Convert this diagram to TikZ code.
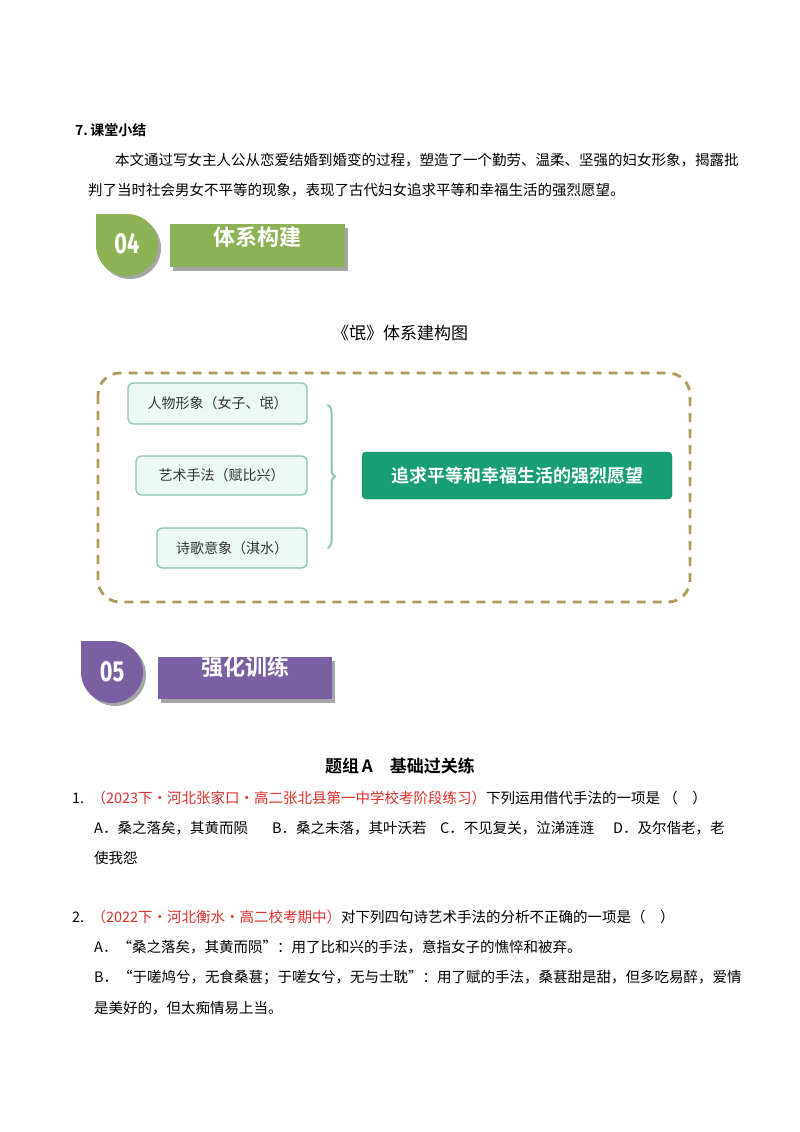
\documentclass[tikz,border=0pt]{standalone}
\usepackage{fontspec}
\setmainfont{Liberation Serif}
\newfontfamily\cjk{Noto Sans CJK SC}
\newfontfamily\cjkb{Noto Sans CJK SC Bold}
\newfontfamily\fira{Fira Sans}
\usetikzlibrary{decorations.pathreplacing}
\definecolor{gbar}{HTML}{8DB255}
\definecolor{pbar}{HTML}{7B5FA3}
\definecolor{dashcol}{HTML}{B09A5A}
\definecolor{lbox}{HTML}{EBF8F4}
\definecolor{lborder}{HTML}{8CC5B2}
\definecolor{dgreen}{HTML}{179E74}
\definecolor{redt}{HTML}{E0302A}
\tikzset{
 txt/.style={anchor=west,inner sep=0,font=\fontsize{14.5}{16}\selectfont\cjk},
 sbox/.style={draw=lborder,line width=1.3pt,fill=lbox,rounded corners=5pt,font=\fontsize{14}{16}\selectfont\cjk,text=black!80,inner sep=0},
 bartxt/.style={font=\fontsize{22}{24}\selectfont\cjkb,text=white,inner sep=0},
 numtxt/.style={font=\fontsize{29}{30}\selectfont\fira\bfseries,text=white,inner sep=0,xscale=0.75}
}
\begin{document}
\begin{tikzpicture}[x=1pt,y=-1pt]
\useasboundingbox[fill=white] (0,0) rectangle (800,1132);
% section 7
\node[txt,font=\fontsize{14}{16}\selectfont\cjkb] (h7) at (75,130) {7.\,课堂小结};
\node[txt] (p1) at (115,160) {本文通过写女主人公从恋爱结婚到婚变的过程，塑造了一个勤劳、温柔、坚强的妇女形象，揭露批};
\node[txt] (p2) at (88,190) {判了当时社会男女不平等的现象，表现了古代妇女追求平等和幸福生活的强烈愿望。};
% badge 04
\fill[black!35] (99,217) rectangle (130,248);
\fill[black!35] (130,248) circle (31);
\fill[gbar] (96,214) rectangle (127,245);
\fill[gbar] (127,245) circle (31);
\node[numtxt] (n4) at (127,244) {04};
\fill[black!35] (173,228) rectangle (348,271);
\fill[gbar] (170,224) rectangle (345,267);
\node[bartxt] (b4) at (257,237) {体系构建};
% title
\node[font=\fontsize{17}{20}\selectfont\cjk,inner sep=0] (ttl) at (400,333) {《氓》体系建构图};
% dashed frame
\draw[dashcol,line width=2.8pt,dash pattern=on 9pt off 7pt,rounded corners=22pt] (98,373) rectangle (690,602);
\node[sbox,minimum width=179pt,minimum height=41pt] (s1) at (217.5,403.5) {人物形象（女子、氓）};
\node[sbox,minimum width=171pt,minimum height=39pt] (s2) at (221.5,475.5) {艺术手法（赋比兴）};
\node[sbox,minimum width=150pt,minimum height=40pt] (s3) at (232,548) {诗歌意象（淇水）};
\coordinate (bt) at (328,405);
\coordinate (bb) at (328,548);
\draw[lborder,line width=2pt,line cap=round,decorate,decoration={brace,amplitude=7pt}] (bt) -- (bb);
\node[draw=dgreen!80!black,fill=dgreen,rounded corners=4pt,minimum width=310pt,minimum height=47pt,inner sep=0,text=white,font=\fontsize{18}{20}\selectfont\cjkb] (res) at (517,475.5) {追求平等和幸福生活的强烈愿望};
% badge 05
\fill[black!35] (84,644) rectangle (115,675);
\fill[black!35] (115,675) circle (31);
\fill[pbar] (81,641) rectangle (112,672);
\fill[pbar] (112,672) circle (31);
\node[numtxt] (n5) at (112,672) {05};
\fill[black!35] (161,661) rectangle (335,703);
\fill[pbar] (158,657) rectangle (332,699);
\node[bartxt] (b5) at (245,667) {强化训练};
% questions
\node[inner sep=0,font=\fontsize{17}{20}\selectfont\cjkb] (grp) at (400,766) {题组\,A\quad 基础过关练};
\node[txt] (q1) at (72,798) {1.\enspace{\color{redt}（2023下·河北张家口·高二张北县第一中学校考阶段练习）}下列运用借代手法的一项是 （\quad）};
\node[txt] (o1) at (94,828) {A．桑之落矣，其黄而陨};
\node[txt] (o2) at (272,828) {B．桑之未落，其叶沃若};
\node[txt] (o3) at (440,828) {C．不见复关，泣涕涟涟};
\node[txt] (o4) at (613,828) {D．及尔偕老，老};
\node[txt] (o5) at (94,858) {使我怨};
\node[txt] (q2) at (72,917) {2.\enspace{\color{redt}（2022下·河北衡水·高二校考期中）}对下列四句诗艺术手法的分析不正确的一项是（\quad）};
\node[txt] (a2) at (94,947) {A．“桑之落矣，其黄而陨”：用了比和兴的手法，意指女子的憔悴和被弃。};
\node[txt] (b2) at (94,977) {B．“于嗟鸠兮，无食桑葚；于嗟女兮，无与士耽”：用了赋的手法，桑葚甜是甜，但多吃易醉，爱情};
\node[txt] (c2) at (94,1008) {是美好的，但太痴情易上当。};
\end{tikzpicture}
\end{document}
